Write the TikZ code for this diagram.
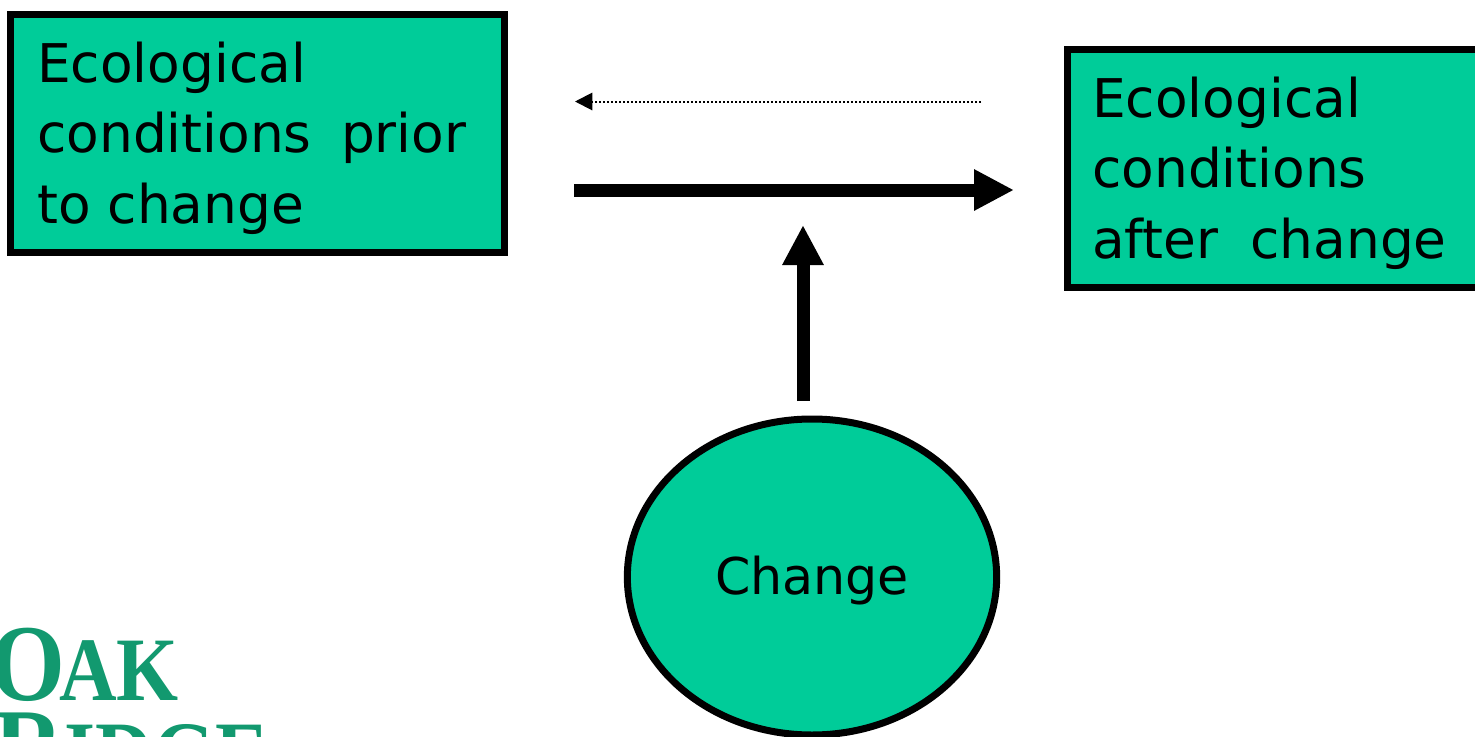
\documentclass[tikz,border=0pt]{standalone}
\usepackage{fontspec}
\setmainfont{DejaVu Sans}
\newfontfamily\serifcaps{Liberation Serif}
\usetikzlibrary{arrows.meta,shapes.geometric}
\definecolor{boxgreen}{HTML}{00CC99}
\definecolor{logogreen}{HTML}{12996F}
\tikzset{
 greenbox/.style={draw=black,line width=5.25pt,fill=boxgreen,rectangle,inner sep=0pt},
 lbl/.style={font=\fontsize{40pt}{53pt}\selectfont,anchor=west,align=left,inner sep=0pt},
 logo/.style={text=logogreen,anchor=base west,inner sep=0pt,xscale=0.88,transform shape},
 thick arrow/.style={line width=9.75pt,-{Triangle[length=30pt,width=29pt]}},
}
\begin{document}
\begin{tikzpicture}[x=0.75pt,y=-0.75pt]
\useasboundingbox (0,0) rectangle (1475,736);
\node[greenbox,minimum width=370pt,minimum height=179pt] (boxa) at (257.5,133.5) {};
\node[greenbox,minimum width=308pt,minimum height=179pt,anchor=west] (boxb) at (1064,168.5) {};
\node[lbl] (ta) at (37,138) {Ecological\\conditions\hspace{22pt}prior\\to change};
\node[lbl] (tb) at (1092,173) {Ecological\\conditions\\after\hspace{24pt}change};
\node[draw=black,line width=5.25pt,fill=boxgreen,ellipse,minimum width=277pt,minimum height=237pt,inner sep=0pt] (chg) at (812,577) {};
\node[font=\fontsize{38pt}{53pt}\selectfont,inner sep=0pt] (tc) at (812,581) {Change};
\coordinate (d1) at (981,101.5); \coordinate (d2) at (575,101.5);
\coordinate (m1) at (574,190); \coordinate (m2) at (1014,190);
\coordinate (v1) at (803,401); \coordinate (v2) at (803,225);
\draw[line width=1.5pt,dash pattern=on 1.4pt off 1.6pt,-{Triangle[length=13pt,width=13pt]}] (d1) -- (d2);
\draw[thick arrow] (m1) -- (m2);
\draw[thick arrow] (v1) -- (v2);
\begin{scope}
\clip (0,0) rectangle (1475,736);
\node[logo,font=\serifcaps\fontsize{82pt}{82pt}\selectfont] (oak) at (-10,700) {\textbf{O}\kern-5pt\fontsize{68pt}{68pt}\selectfont\textbf{AK}};
\node[logo,font=\serifcaps\fontsize{82pt}{82pt}\selectfont] (ridge) at (-6,784) {\textbf{R}\fontsize{68pt}{68pt}\selectfont\textbf{IDGE}};
\end{scope}
\end{tikzpicture}
\end{document}
